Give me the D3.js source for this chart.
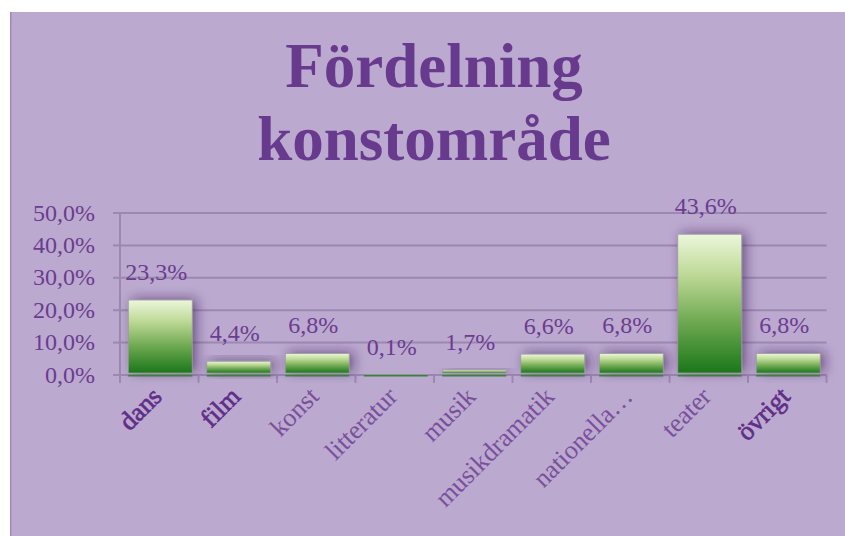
<!DOCTYPE html>
<html><head><meta charset="utf-8">
<script src="https://cdn.jsdelivr.net/npm/d3@7"></script>
<style>body{margin:0;background:#fff}svg{display:block}</style>
</head><body>
<script>
const categories = ["dans","film","konst","litteratur","musik","musikdramatik","nationella…","teater","övrigt"];
const values = [23.3, 4.4, 6.8, 0.1, 1.7, 6.6, 6.8, 43.6, 6.8];
const valueLabels = ["23,3%","4,4%","6,8%","0,1%","1,7%","6,6%","6,8%","43,6%","6,8%"];
const boldLabels = ["dans","film","övrigt"];
const yTicks = [0,10,20,30,40,50];
const yTickLabels = ["0,0%","10,0%","20,0%","30,0%","40,0%","50,0%"];
const titleLines = ["Fördelning","konstområde"];

const W = 845, H = 536;
const svg = d3.select("body").append("svg").attr("width", W).attr("height", H);
const defs = svg.append("defs");
const grad = defs.append("linearGradient").attr("id","barGrad").attr("x1",0).attr("y1",0).attr("x2",0).attr("y2",1);
[[0,"#ecf7dc"],[0.3,"#bcd894"],[0.65,"#6aa64e"],[1,"#1a771a"]].forEach(s=>grad.append("stop").attr("offset",s[0]).attr("stop-color",s[1]));
const f = defs.append("filter").attr("id","shadow").attr("x","-50%").attr("y","-50%").attr("width","200%").attr("height","200%");
f.append("feDropShadow").attr("dx",4).attr("dy",-1).attr("stdDeviation",6).attr("flood-color","#3e2458").attr("flood-opacity",0.6);

// background
svg.append("rect").attr("x",10).attr("y",12).attr("width",W-10).attr("height",H-12).attr("fill","#bba9cf");
svg.append("line").attr("x1",10.75).attr("x2",10.75).attr("y1",12).attr("y2",H).attr("stroke","#9f8bb5").attr("stroke-width",1.5);

// title
const title = svg.append("text").attr("text-anchor","middle").attr("font-family","'Liberation Serif', 'Times New Roman', serif")
  .attr("font-weight","bold").attr("font-size",63).attr("fill","#673a8e");
titleLines.forEach((t,i)=>title.append("tspan").attr("x",434).attr("y",87+i*73).text(t));

const x0 = 120, x1 = 826.5;
const x = d3.scaleBand().domain(categories).range([x0,x1]).padding(0);
const y = d3.scaleLinear().domain([0,50]).range([374.5,212.5]);
const gridColor = "#9c88b1";

// gridlines & y ticks
const yAxis = d3.axisLeft(y).tickValues(yTicks).tickSize(-(x1-x0)).tickFormat((d,i)=>yTickLabels[i]).tickPadding(18);
const gy = svg.append("g").attr("transform",`translate(${x0},0)`).call(yAxis);
gy.select(".domain").remove();
gy.selectAll(".tick line").attr("stroke",gridColor).attr("stroke-width",2);
gy.selectAll(".tick").append("line").attr("x1",-7).attr("x2",0).attr("stroke",gridColor).attr("stroke-width",2);
gy.selectAll(".tick text").attr("font-family","'Liberation Serif', 'Times New Roman', serif").attr("font-size",24).attr("fill","#6b3c90").attr("x",-25);

// y axis line
svg.append("line").attr("x1",x0).attr("x2",x0).attr("y1",212.5).attr("y2",383).attr("stroke",gridColor).attr("stroke-width",2);
// x ticks at band boundaries
const bounds = categories.map(c=>x(c)).concat([x1]);
svg.append("g").selectAll("line").data(bounds.slice(1)).join("line")
  .attr("x1",d=>d).attr("x2",d=>d).attr("y1",374.5).attr("y2",383).attr("stroke",gridColor).attr("stroke-width",2);

// bars
const bw = x.bandwidth()*0.815;
const bars = svg.append("g");
categories.forEach((c,i)=>{
  const cx = x(c)+x.bandwidth()/2+1;
  const top = y(values[i])+1;
  const g = bars.append("g");
  g.append("rect").attr("x",cx-bw/2).attr("y",top).attr("width",bw).attr("height",Math.max(0.5,y(0)-1.5-top))
    .attr("fill","url(#barGrad)").attr("stroke","#9a98a0").attr("stroke-width",0.8).attr("filter","url(#shadow)");
  g.append("rect").attr("x",cx-bw/2).attr("y",y(0)+0.5).attr("width",bw).attr("height",1.5).attr("fill","#2e8a2a");
});

// value labels
svg.append("g").selectAll("text").data(values).join("text")
  .attr("x",(d,i)=>x(categories[i])+x.bandwidth()/2-3)
  .attr("y",d=>y(d)-19)
  .attr("text-anchor","middle").attr("font-family","'Liberation Serif', 'Times New Roman', serif")
  .attr("font-size",24).attr("fill","#6b3c90").text((d,i)=>valueLabels[i]);

// category labels
svg.append("g").selectAll("text").data(categories).join("text")
  .attr("transform",c=>`translate(${x(c)+x.bandwidth()/2+4},${398}) rotate(-45)`)
  .attr("text-anchor","end").attr("font-family","'Liberation Serif', 'Times New Roman', serif")
  .attr("font-size",26)
  .attr("fill",c=>boldLabels.includes(c)?"#5f2f88":"#7a4f9c")
  .attr("stroke",c=>boldLabels.includes(c)?"#5f2f88":"none")
  .attr("stroke-width",0.7)
  .text(c=>c);
</script>
</body></html>
